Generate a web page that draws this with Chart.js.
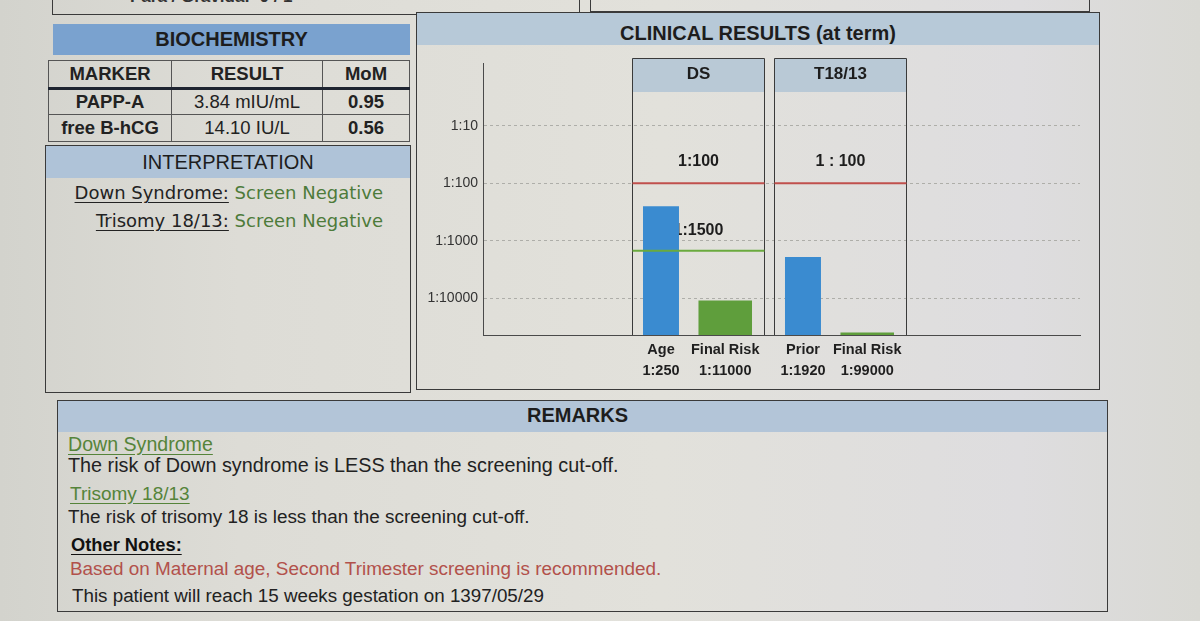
<!DOCTYPE html>
<html lang="en">
<head>
<meta charset="UTF-8">
<title>First Trimester Screening - Clinical Results</title>
<script src="https://cdn.jsdelivr.net/npm/chart.js"></script>
<style>
    body {
        margin: 0;
        width: 1200px;
        height: 621px;
        overflow: hidden;
        position: relative;
        background: linear-gradient(90deg, #d3d3cd 0%, #dddcd6 20%, #e2e1db 55%, #dedddf 85%, #d9d9d4 100%);
        font-family: "Liberation Sans", Arial, sans-serif;
        color: #222;
    }
    .box {
        position: absolute;
        border: 1px solid #3a3a3a;
        box-sizing: border-box;
    }
    .fill {
        position: absolute;
        text-align: center;
        font-weight: bold;
        color: #1d1d1d;
    }
    .txt {
        position: absolute;
        white-space: nowrap;
    }
    #bio td {
        border: 1px solid #555;
        text-align: center;
        padding: 0;
        font-size: 18.5px;
    }
    #bio tr.h td { font-weight: bold; border-bottom: 3px solid #1e2430; height: 26px; }
    #bio .b { font-weight: bold; }
    .interp { font-family: "DejaVu Sans", sans-serif; font-size: 18px; }
    .ul { text-decoration: underline; text-underline-offset: 3px; }
    .neg { color: #4d7b3a; }
    .rem { font-size: 19px; left: 68px; }
    canvas { position: absolute; left: 416px; top: 46px; }
</style>
</head>
<body>
    <!-- patient boxes at the top (cut by the photo) -->
    <div class="box" style="left:52px; top:-40px; width:528px; height:55px;"></div>
    <div class="box" style="left:590px; top:-40px; width:500px; height:52px;"></div>
    <div class="txt" style="left:130px; top:-13px; font-size:17px; font-weight:bold; color:#333;">Para / Gravida:&nbsp; 0 / 1</div>

    <!-- biochemistry -->
    <div class="fill" style="left:53px; top:24px; width:357px; height:31px; line-height:31px; font-size:20px; background:#7aa2cf;">BIOCHEMISTRY</div>
    <table id="bio" style="position:absolute; left:48px; top:60px; width:362px; border-collapse:collapse;">
        <tr class="h"><td style="width:122px;">MARKER</td><td style="width:150px;">RESULT</td><td>MoM</td></tr>
        <tr style="height:26px;"><td class="b">PAPP-A</td><td>3.84 mIU/mL</td><td class="b">0.95</td></tr>
        <tr style="height:27px;"><td class="b">free B-hCG</td><td>14.10 IU/L</td><td class="b">0.56</td></tr>
    </table>

    <!-- interpretation -->
    <div class="box" style="left:45px; top:145px; width:366px; height:248px;"></div>
    <div class="fill" style="left:46px; top:146px; width:364px; height:32px; line-height:32px; font-size:20px; font-weight:normal; background:#afc3d8;">INTERPRETATION</div>
    <div class="txt interp" style="left:45px; width:338px; top:182px; text-align:right;"><span class="ul">Down Syndrome:</span> <span class="neg">Screen Negative</span></div>
    <div class="txt interp" style="left:45px; width:338px; top:210px; text-align:right;"><span class="ul">Trisomy 18/13:</span> <span class="neg">Screen Negative</span></div>

    <!-- clinical results -->
    <div class="box" style="left:416px; top:12px; width:684px; height:378px;"></div>
    <div class="fill" style="left:417px; top:13px; width:682px; height:32px; line-height:40px; font-size:20px; background:#b7c9d8;">CLINICAL RESULTS (at term)</div>
    <canvas id="riskChart" width="690" height="344"></canvas>

    <!-- remarks -->
    <div class="box" style="left:57px; top:400px; width:1051px; height:212px;"></div>
    <div class="fill" style="left:58px; top:401px; width:1049px; height:31px; line-height:28px; font-size:20px; background:#b3c5d8; text-indent:-10px;">REMARKS</div>
    <div class="txt rem ul" style="top:433px; color:#55843a; font-size:19.6px;">Down Syndrome</div>
    <div class="txt rem" style="top:454px; font-size:19.8px;">The risk of Down syndrome is LESS than the screening cut-off.</div>
    <div class="txt rem ul" style="top:483px; color:#55843a; left:70px;">Trisomy 18/13</div>
    <div class="txt rem" style="top:506px; font-size:18.9px;">The risk of trisomy 18 is less than the screening cut-off.</div>
    <div class="txt rem ul" style="top:534px; color:#111; font-weight:bold; font-size:18.3px; left:71px;">Other Notes:</div>
    <div class="txt rem" style="top:558px; color:#b2514b; left:70px; font-size:18.9px;">Based on Maternal age, Second Trimester screening is recommended.</div>
    <div class="txt rem" style="top:585px; left:72px; font-size:18.8px;">This patient will reach 15 weeks gestation on 1397/05/29</div>

    <script>
        // risk values are "1 in N", plotted on a reversed log axis
        const panels = ['DS', 'T18/13'];
        const priorNames = ['Age', 'Prior'];
        const priorRisk = [250, 1920];
        const finalNames = ['Final Risk', 'Final Risk'];
        const finalRisk = [11000, 99000];
        const cutoffRisk = [100, 100];
        const cutoffText = ['1:100', '1 : 100'];
        const ageCutoffRisk = [1500, null];
        const ageCutoffText = ['1:1500', ''];
        const yTicks = [10, 100, 1000, 10000];
        const yTickLabels = ['1:10', '1:100', '1:1000', '1:10000'];

        const RISK_TOP = 0.8;
        const RISK_BOTTOM = 44000;
        const RISK_FLOOR = 40000;   // very low risks sit on the floor of the chart

        const FONT = '"Liberation Sans", Arial, sans-serif';

        function barData(values) {
            return values.map((v, i) => ({ x: i + 1, y: Math.min(v, RISK_FLOOR) }));
        }

        const panelPlugin = {
            id: 'panels',
            beforeDatasetsDraw(chart) {
                const { ctx, chartArea, scales: { x, y } } = chart;
                const top = chartArea.top - 5;
                panels.forEach((name, i) => {
                    const c = x.getPixelForValue(i + 1);
                    const l = Math.round(c - 66), r = Math.round(c + 66);
                    ctx.save();
                    ctx.fillStyle = '#b9c9d6';
                    ctx.fillRect(l, top, r - l, 34);
                    ctx.strokeStyle = '#3a3a3a';
                    ctx.lineWidth = 1;
                    ctx.beginPath();
                    ctx.moveTo(l + 0.5, chartArea.bottom);
                    ctx.lineTo(l + 0.5, top + 0.5);
                    ctx.lineTo(r + 0.5, top + 0.5);
                    ctx.lineTo(r + 0.5, chartArea.bottom);
                    ctx.stroke();
                    ctx.fillStyle = '#1d1d1d';
                    ctx.textAlign = 'center';
                    ctx.textBaseline = 'middle';
                    ctx.font = 'bold 17px ' + FONT;
                    ctx.fillText(name, c, top + 16);
                    ctx.font = 'bold 16px ' + FONT;
                    ctx.fillText(cutoffText[i], c, y.getPixelForValue(cutoffRisk[i]) - 22);
                    if (ageCutoffRisk[i]) {
                        ctx.fillText(ageCutoffText[i], c, y.getPixelForValue(ageCutoffRisk[i]) - 20);
                    }
                    ctx.restore();
                });
            },
            afterDatasetsDraw(chart) {
                const { ctx, scales: { x, y } } = chart;
                panels.forEach((name, i) => {
                    const c = x.getPixelForValue(i + 1);
                    ctx.save();
                    ctx.lineWidth = 2;
                    ctx.strokeStyle = '#c0504d';
                    let yy = y.getPixelForValue(cutoffRisk[i]);
                    ctx.beginPath(); ctx.moveTo(c - 66, yy); ctx.lineTo(c + 66, yy); ctx.stroke();
                    if (ageCutoffRisk[i]) {
                        ctx.strokeStyle = '#6aaa3e';
                        yy = y.getPixelForValue(ageCutoffRisk[i]);
                        ctx.beginPath(); ctx.moveTo(c - 66, yy); ctx.lineTo(c + 66, yy); ctx.stroke();
                    }
                    ctx.restore();
                });
            },
            afterDraw(chart) {
                const { ctx, chartArea } = chart;
                const names = [priorNames, finalNames];
                const values = [priorRisk, finalRisk];
                ctx.save();
                ctx.fillStyle = '#1f1f1f';
                ctx.textAlign = 'center';
                ctx.textBaseline = 'middle';
                ctx.font = 'bold 14.5px ' + FONT;
                chart.data.datasets.forEach((ds, d) => {
                    chart.getDatasetMeta(d).data.forEach((bar, i) => {
                        ctx.fillText(names[d][i], bar.x, chartArea.bottom + 15);
                        ctx.fillText('1:' + values[d][i], bar.x, chartArea.bottom + 36);
                    });
                });
                ctx.restore();
            }
        };

        new Chart(document.getElementById('riskChart'), {
            type: 'bar',
            data: {
                datasets: [{
                    label: 'Prior risk',
                    data: barData(priorRisk),
                    backgroundColor: '#3a8bd0',
                    base: RISK_BOTTOM,
                    categoryPercentage: 1.056,
                    barPercentage: 0.48
                }, {
                    label: 'Final risk',
                    data: barData(finalRisk),
                    backgroundColor: '#5f9e3c',
                    base: RISK_BOTTOM,
                    categoryPercentage: 0.754,
                    barPercentage: 1.0
                }]
            },
            options: {
                responsive: false,
                animation: false,
                layout: { padding: { top: 17, right: 26, bottom: 55, left: 0 } },
                plugins: { legend: { display: false }, tooltip: { enabled: false } },
                scales: {
                    x: {
                        type: 'linear',
                        offset: false,
                        min: -0.5176,
                        max: 3.687,
                        bounds: 'data',
                        afterBuildTicks: s => { s.ticks = panels.map((p, i) => ({ value: i + 1 })); },
                        afterFit: s => { s.height = 0; },
                        ticks: { display: false },
                        grid: { display: false, drawTicks: false },
                        border: { display: true, color: '#4a4a4a', width: 1 }
                    },
                    y: {
                        type: 'logarithmic',
                        reverse: true,
                        min: RISK_TOP,
                        max: RISK_BOTTOM,
                        bounds: 'data',
                        afterBuildTicks: s => { s.ticks = yTicks.map(v => ({ value: v })); },
                        afterFit: s => { s.width = 67; },
                        ticks: {
                            callback: (v, i) => yTickLabels[i],
                            color: '#333',
                            padding: 5,
                            font: { size: 14, family: FONT }
                        },
                        grid: { color: '#aeaea9', lineWidth: 1, drawTicks: false },
                        border: { display: true, color: '#4a4a4a', width: 1, dash: [3, 3] }
                    }
                }
            },
            plugins: [panelPlugin]
        });
    </script>
</body>
</html>
